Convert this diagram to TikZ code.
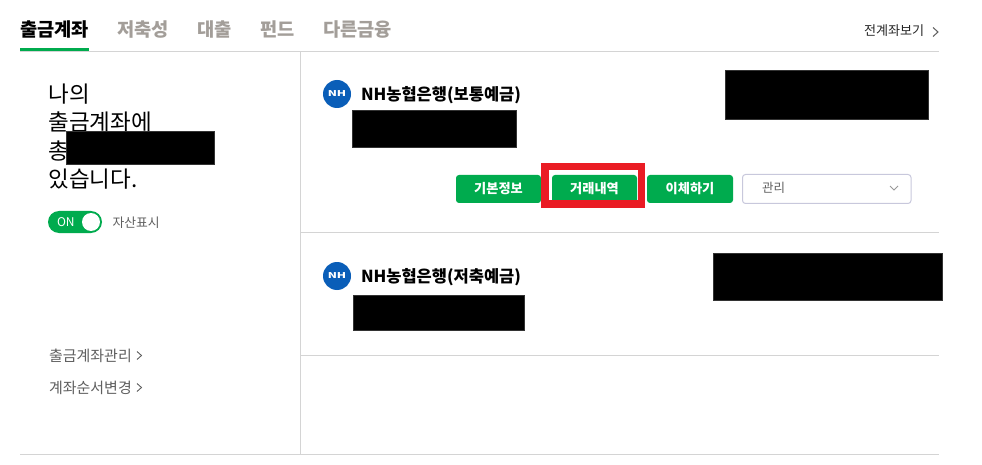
\documentclass[tikz,border=0pt]{standalone}
\usepackage{fontspec}
\usepackage{graphicx}
\setmainfont{Noto Sans CJK KR}
\definecolor{nhgreen}{HTML}{00AB4E}
\definecolor{rulegray}{HTML}{D4D4D4}
\definecolor{tabgray}{HTML}{A39E99}
\definecolor{linkgray}{HTML}{5F5F5F}
\definecolor{nhblue}{HTML}{0A5EB8}
\definecolor{selborder}{HTML}{C8C8DC}
\definecolor{redbox}{HTML}{EA1C24}
\tikzset{
  x=1pt,y=-1pt,
  label/.style={inner sep=0pt,outer sep=0pt,anchor=west},
  tabsel/.style={label,font=\fontsize{18.7}{19}\selectfont\bfseries,text=black},
  tabidle/.style={label,font=\fontsize{18.7}{19}\selectfont\bfseries,text=tabgray},
  headline/.style={label,font=\fontsize{22.5}{23}\selectfont,text=black},
  acct/.style={label,font=\fontsize{16.5}{17}\selectfont\bfseries,text=black},
  small/.style={label,font=\fontsize{15}{15}\selectfont,text=linkgray},
  btn/.style={fill=nhgreen,rounded corners=3pt,minimum height=28pt,inner sep=0pt,outer sep=0pt,text=white,font=\fontsize{13.2}{14}\selectfont\bfseries},
  hide/.style={fill=black,draw=black!80,line width=.6pt,inner sep=0pt,outer sep=0pt},
  hair/.style={draw=rulegray,line width=1pt},
  chev/.style={draw=linkgray,line width=.9pt},
  logo/.style={circle,fill=nhblue,minimum size=28pt,inner sep=0pt,text=white,font=\fontsize{8}{9}\selectfont\bfseries},
}
\begin{document}
\begin{tikzpicture}
\useasboundingbox (0,0) rectangle (982,465);
\fill[white] (0,0) rectangle (982,465);
% rules
\draw[hair] (20,51.5) -- (939,51.5);
\draw[hair] (300.5,51.5) -- (300.5,454.5);
\draw[hair] (20,454.5) -- (939,454.5);
\draw[hair] (300.5,232.5) -- (939,232.5);
\draw[hair] (300.5,355.5) -- (939,355.5);
\fill[nhgreen] (20,48) rectangle (89,51);
% tabs
\node[tabsel] (t1) at (20,29.5) {출금계좌};
\node[tabidle] (t2) at (117.5,29.5) {저축성};
\node[tabidle] (t3) at (197.5,29.5) {대출};
\node[tabidle] (t4) at (260,29.5) {펀드};
\node[tabidle] (t5) at (323,29.5) {다른금융};
\node[label,font=\fontsize{13.1}{13}\selectfont,text=black!85] (all) at (864,31) {전계좌보기};
\draw[chev,line width=1pt] (933,27.5) -- (938,32) -- (933,36.5);
% left panel
\node[headline] (h1) at (48.5,94) {나의};
\node[headline] (h2) at (48.5,122) {출금계좌에};
\node[headline] (h3) at (48.5,151) {총};
\node[headline] (h4) at (48.5,179) {있습니다.};
\node[hide,minimum width=148.4pt,minimum height=33.4pt,anchor=north west] (m1) at (66.3,131.3) {};
\node[fill=nhgreen,rounded corners=11pt,minimum width=54pt,minimum height=22pt,inner sep=0pt,outer sep=0pt,anchor=north west] (tog) at (48,211) {};
\node[label,text=white,font=\fontsize{12}{12}\selectfont] (on) at (57,222) {ON};
\node[circle,fill=white,minimum size=18pt,inner sep=0pt] (knob) at (91,222) {};
\node[small,font=\fontsize{12.8}{13}\selectfont] (asset) at (112.5,222.5) {자산표시};
\node[small] (l1) at (49,356) {출금계좌관리};
\draw[chev] (137,351.5) -- (141.5,355.5) -- (137,359.5);
\node[small] (l2) at (49,387.5) {계좌순서변경};
\draw[chev] (137,383.5) -- (141.5,387.5) -- (137,391.5);
% account 1
\node[logo] (nh1) at (337,94) {\scalebox{1.5}[1]{NH}};
\node[acct] (a1) at (361,94.7) {NH농협은행(보통예금)};
\node[hide,minimum width=164.4pt,minimum height=37.4pt,anchor=north west] (m2) at (352.3,110.3) {};
\node[hide,minimum width=203.4pt,minimum height=49.4pt,anchor=north west] (m3) at (725.3,70.3) {};
\node[btn,minimum width=85pt,anchor=north west] (b1) at (456,175) {기본정보};
\node[btn,minimum width=85pt,anchor=north west] (b2) at (552,175) {거래내역};
\node[btn,minimum width=86pt,anchor=north west] (b3) at (647,175) {이체하기};
\node[draw=selborder,line width=1pt,fill=white,rounded corners=3pt,minimum width=168.5pt,minimum height=29pt,inner sep=0pt,outer sep=0pt,anchor=north west] (sel) at (742.5,174.5) {};
\node[small,font=\fontsize{12.5}{13}\selectfont] (mg) at (762,188) {관리};
\draw[draw=black!40,line width=.9pt] (890,186) -- (894,190) -- (898,186);
\node[draw=redbox,line width=7.5pt,minimum width=96.5pt,minimum height=37.5pt,inner sep=0pt,outer sep=0pt,anchor=north west] (red) at (544.75,166.75) {};
% account 2
\node[logo] (nh2) at (337,276) {\scalebox{1.5}[1]{NH}};
\node[acct] (a2) at (361,276.7) {NH농협은행(저축예금)};
\node[hide,minimum width=171.4pt,minimum height=35.4pt,anchor=north west] (m4) at (353.3,295.3) {};
\node[hide,minimum width=229.4pt,minimum height=47.4pt,anchor=north west] (m5) at (713.3,253.3) {};
\end{tikzpicture}
\end{document}
